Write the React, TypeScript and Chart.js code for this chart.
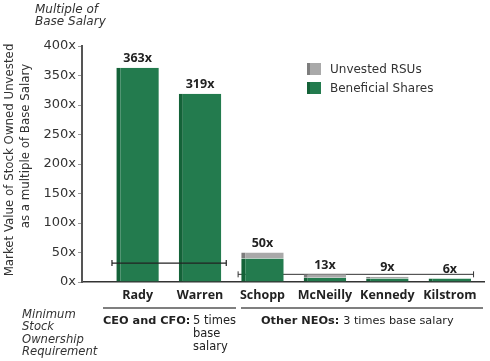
import React, { useEffect, useRef } from "react";
import { Chart, registerables } from "chart.js";
Chart.register(...registerables);

const names = ["Rady", "Warren", "Schopp", "McNeilly", "Kennedy", "Kilstrom"];
const beneficial = [363, 319, 40, 7, 6, 6];
const unvested = [0, 0, 10, 6, 3, 0];
const totalLabels = ["363x", "319x", "50x", "13x", "9x", "6x"];
const ceoReqLine = [{ x: -0.41, y: 32 }, { x: 1.42, y: 32 }];
const neoReqLine = [{ x: 1.61, y: 13 }, { x: 5.38, y: 13 }];

const FONT = "'DejaVu Sans', sans-serif";
const FONT2 = "'Open Sans', sans-serif";
const GREEN = "#237b4e";
const GREEN_DARK = "#146238";
const GRAY = "#a9a9a9";
const GRAY_DARK = "#7d7d7d";

const annotations = {
  id: "annotations",
  afterDraw(chart: any) {
    const ctx = chart.ctx;
    const xs = chart.scales.x;
    const ys = chart.scales.y;
    ctx.save();
    // value labels
    ctx.font = `bold 12.5px ${FONT2}`;
    ctx.fillStyle = "#222";
    ctx.textAlign = "center";
    ctx.textBaseline = "bottom";
    names.forEach((_, i) => {
      const x = xs.getPixelForValue(i);
      const y = ys.getPixelForValue(beneficial[i] + unvested[i]);
      ctx.fillText(totalLabels[i], x, y - 3);
    });
    // top-left label
    ctx.font = `italic 12px ${FONT}`;
    ctx.fillStyle = "#333";
    ctx.textAlign = "left";
    ctx.textBaseline = "middle";
    ctx.fillText("Multiple of", 35, 10);
    ctx.fillText("Base Salary", 35, 22);
    // y title
    ctx.font = `11.8px ${FONT}`;
    ctx.fillStyle = "#333";
    ctx.textAlign = "center";
    ctx.save();
    ctx.translate(10, 160);
    ctx.rotate(-Math.PI / 2);
    ctx.fillText("Market Value of Stock Owned Unvested", 0, 0);
    ctx.restore();
    ctx.save();
    ctx.translate(26, 146);
    ctx.rotate(-Math.PI / 2);
    ctx.fillText("as a multiple of Base Salary", 0, 0);
    ctx.restore();
    // legend
    const ds = chart.data.datasets;
    const legendItems = [ds[1], ds[0]];
    ctx.textAlign = "left";
    ctx.font = `12px ${FONT}`;
    legendItems.forEach((d: any, k: number) => {
      const y = 63 + k * 19;
      ctx.fillStyle = d.borderColor;
      ctx.fillRect(307, y, 14, 12);
      ctx.fillStyle = d.backgroundColor;
      ctx.fillRect(310, y, 11, 12);
      ctx.fillStyle = "#333";
      ctx.fillText(d.label, 330, y + 6.5);
    });
    // group underlines
    ctx.strokeStyle = "#555";
    ctx.lineWidth = 1.5;
    ctx.beginPath();
    ctx.moveTo(103, 308);
    ctx.lineTo(236, 308);
    ctx.moveTo(241, 308);
    ctx.lineTo(483, 308);
    ctx.stroke();
    // requirement text
    ctx.fillStyle = "#222";
    ctx.font = `bold 11.3px ${FONT}`;
    ctx.fillText("CEO and CFO:", 103, 321);
    ctx.font = `11.5px ${FONT}`;
    ctx.fillText("5 times", 193, 321);
    ctx.fillText("base", 193, 334);
    ctx.fillText("salary", 193, 347);
    ctx.font = `bold 11.3px ${FONT}`;
    ctx.fillText("Other NEOs:", 261, 321);
    const w = ctx.measureText("Other NEOs: ").width;
    ctx.font = `11.3px ${FONT}`;
    ctx.fillText("3 times base salary", 261 + w, 321);
    // left italic note
    ctx.font = `italic 11.6px ${FONT}`;
    ctx.fillStyle = "#333";
    ["Minimum", "Stock", "Ownership", "Requirement"].forEach((t, k) => {
      ctx.fillText(t, 22, 315 + k * 12.3);
    });
    ctx.restore();
  },
};

export default function App() {
  const ref = useRef<HTMLCanvasElement>(null);
  useEffect(() => {
    document.body.style.margin = "0";
    const chart = new Chart(ref.current!, {
      type: "bar",
      data: {
        datasets: [
          {
            type: "bar",
            label: "Beneficial Shares",
            data: beneficial.map((v, i) => ({ x: i, y: v })),
            backgroundColor: GREEN,
            borderColor: GREEN_DARK,
            borderWidth: { left: 4, right: 0, top: 0, bottom: 0 },
            borderSkipped: false,
            stack: "s",
            barPercentage: 0.68,
            categoryPercentage: 1,
            order: 0,
          },
          {
            type: "bar",
            label: "Unvested RSUs",
            data: unvested.map((v, i) => ({ x: i, y: v })),
            backgroundColor: GRAY,
            borderColor: GRAY_DARK,
            borderWidth: { left: 4, right: 0, top: 0, bottom: 0 },
            borderSkipped: false,
            stack: "s",
            barPercentage: 0.68,
            categoryPercentage: 1,
            order: 0,
          },
          {
            type: "line",
            label: "CEO/CFO requirement",
            data: ceoReqLine,
            borderColor: "#222",
            borderWidth: 1.2,
            pointStyle: "line",
            rotation: 90,
            pointRadius: 3,
            pointBorderWidth: 1.2,
            pointBorderColor: "#222",
            stack: "l1",
            order: -1,
          } as any,
          {
            type: "line",
            label: "NEO requirement",
            data: neoReqLine,
            borderColor: "#333",
            borderWidth: 1,
            pointStyle: "line",
            rotation: 90,
            pointRadius: 3,
            pointBorderWidth: 1,
            pointBorderColor: "#333",
            stack: "l2",
            order: 1,
          } as any,
        ],
      },
      options: {
        animation: false,
        responsive: false,
        layout: { padding: { top: 46, right: 2, left: 0, bottom: 0 } },
        plugins: { legend: { display: false }, tooltip: { enabled: false } },
        scales: {
          x: {
            type: "linear",
            min: -0.89,
            max: 5.56,
            offset: false,
            stacked: true,
            grid: { display: false, drawTicks: false },
            border: { display: true, color: "#333", width: 1.5 },
            ticks: {
              font: { family: FONT2, size: 12.5, weight: "bold" },
              color: "#222",
              padding: 6,
              autoSkip: false,
              maxRotation: 0,
              callback: (v: any) => names[v] ?? "",
            },
            afterBuildTicks: (s: any) => {
              s.ticks = names.map((_, i) => ({ value: i }));
            },
            afterFit: (s: any) => {
              s.height = 79;
            },
          },
          y: {
            min: 0,
            max: 400,
            stacked: true,
            grid: { drawOnChartArea: false, drawTicks: true, tickLength: 4, color: "#999" },
            border: { color: "#555", width: 2 },
            ticks: {
              stepSize: 50,
              font: { family: FONT, size: 13 },
              color: "#333",
              padding: 2,
              callback: (v: any) => v + "x",
            },
            afterFit: (s: any) => {
              s.width = 82;
            },
          },
        },
      } as any,
      plugins: [annotations],
    });
    return () => chart.destroy();
  }, []);
  return (
    <div style={{ position: "absolute", left: 0, top: 0, width: 490, height: 361, background: "#fff" }}>
      <canvas ref={ref} width={490} height={361} />
    </div>
  );
}
